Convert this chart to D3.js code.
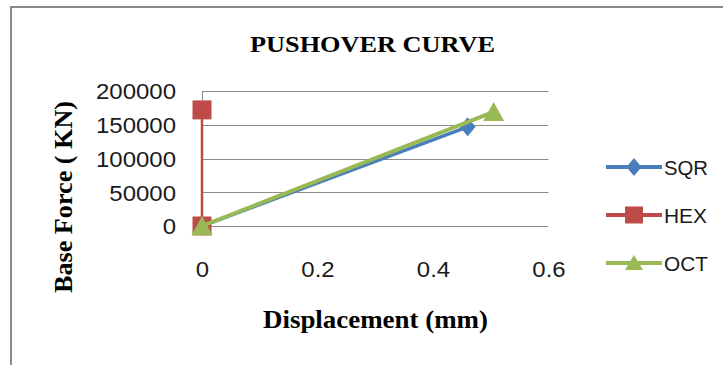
<!DOCTYPE html>
<html><head><meta charset="utf-8">
<script src="https://cdn.jsdelivr.net/npm/d3@7"></script>
<style>html,body{margin:0;padding:0;background:#fff;overflow:hidden}</style>
</head><body>
<svg id="c" width="723" height="365"></svg>
<script>
const seriesNames = ["SQR", "HEX", "OCT"];
const sqrX = [0, 0.46];
const sqrY = [0, 147000];
const hexX = [0, 0];
const hexY = [0, 172000];
const octX = [0, 0.505];
const octY = [0, 169000];
const xTicks = [0, 0.2, 0.4, 0.6];
const yTicks = [0, 50000, 100000, 150000, 200000];
const colors = ["#4A7EBB", "#BE4B48", "#98B954"];
const markers = ["diamond", "square", "triangle"];
const titleText = "PUSHOVER CURVE";
const xTitle = "Displacement (mm)";
const yTitle = "Base Force ( KN)";

const svg = d3.select("#c");
const L = 202, R = 548.5, T = 91, B = 226;
const x = d3.scaleLinear().domain([0, 0.6]).range([L, R]);
const y = d3.scaleLinear().domain([0, 200000]).range([B, T]);

// frame
svg.append("path").attr("d", "M11,370 V7 H730").attr("fill", "none")
  .attr("stroke", "#8a8a8a").attr("stroke-width", 2);

function fit(sel, w) {
  sel.each(function(){ this.setAttribute("textLength", w); this.setAttribute("lengthAdjust", "spacingAndGlyphs"); });
}

// title
svg.append("text").attr("x", 372.5).attr("y", 52).attr("text-anchor", "middle")
  .attr("font-family", "Liberation Serif").attr("font-weight", "bold").attr("font-size", 23)
  .text(titleText).call(fit, 245);

// gridlines
const grid = svg.append("g");
grid.selectAll("line").data(yTicks).join("line")
  .attr("x1", L).attr("x2", R).attr("y1", d => Math.round(y(d)) + 0.5).attr("y2", d => Math.round(y(d)) + 0.5)
  .attr("stroke", "#8c8c8c").attr("stroke-width", 1);
svg.append("line").attr("x1", L + 0.5).attr("x2", L + 0.5).attr("y1", T).attr("y2", B)
  .attr("stroke", "#8c8c8c").attr("stroke-width", 1);

// y axis labels
const yAxis = d3.axisLeft(y).tickValues(yTicks).tickSize(0).tickPadding(0).tickFormat(d3.format("d"));
const gy = svg.append("g").attr("transform", `translate(176,0)`).call(yAxis);
gy.select(".domain").remove();
gy.selectAll("text").attr("font-family", "Liberation Sans").attr("font-size", 22)
  .attr("fill", "#1a1a1a").attr("dy", "0.36em")
  .each(function(){ const w = this.getComputedTextLength(); this.setAttribute("textLength", w * 1.09); this.setAttribute("lengthAdjust", "spacingAndGlyphs"); });

// x axis labels
const xAxis = d3.axisBottom(x).tickValues(xTicks).tickSize(0).tickPadding(0).tickFormat(d => d === 0 ? "0" : d3.format(".1f")(d));
const gx = svg.append("g").attr("transform", `translate(0,261)`).call(xAxis);
gx.select(".domain").remove();
gx.selectAll("text").attr("font-family", "Liberation Sans").attr("font-size", 22)
  .attr("fill", "#1a1a1a").attr("dy", "0.71em")
  .each(function(){ const w = this.getComputedTextLength(); this.setAttribute("textLength", w * 1.09); this.setAttribute("lengthAdjust", "spacingAndGlyphs"); });

// axis titles
svg.append("text").attr("x", 375.5).attr("y", 328).attr("text-anchor", "middle")
  .attr("font-family", "Liberation Serif").attr("font-weight", "bold").attr("font-size", 26)
  .text(xTitle).call(fit, 225);
svg.append("text").attr("transform", "translate(72,197) rotate(-90)").attr("text-anchor", "middle")
  .attr("font-family", "Liberation Serif").attr("font-weight", "bold").attr("font-size", 26)
  .text(yTitle).call(fit, 192);

function markerPath(type) {
  if (type === "diamond") return "M0,-9.5 L8,0 L0,9.5 L-8,0 Z";
  if (type === "square") return "M-9.5,-9.5 H9.5 V9.5 H-9.5 Z";
  return "M0,-10 L10.5,9 L-10.5,9 Z";
}
function legendMarker(type) {
  if (type === "diamond") return "M0,-9 L7.5,0 L0,9 L-7.5,0 Z";
  if (type === "square") return "M-9,-8.5 H9 V8.5 H-9 Z";
  return "M0,-8 L9,7 L-9,7 Z";
}

const data = [
  sqrX.map((v, i) => [v, sqrY[i]]),
  hexX.map((v, i) => [v, hexY[i]]),
  octX.map((v, i) => [v, octY[i]])
];
const widths = [3.5, 2.5, 4];
const line = d3.line().x(d => x(d[0])).y(d => y(d[1]));
data.forEach((pts, i) => {
  const g = svg.append("g");
  g.append("path").attr("d", line(pts)).attr("fill", "none").attr("stroke", colors[i])
    .attr("stroke-width", widths[i]);
  g.selectAll("path.m").data(pts).join("path").attr("class", "m")
    .attr("transform", d => `translate(${x(d[0])},${y(d[1])})`)
    .attr("d", markerPath(markers[i])).attr("fill", colors[i]);
});

// legend
const legY = [167, 215, 263];
const legW = [44, 43, 44];
seriesNames.forEach((n, i) => {
  const g = svg.append("g").attr("transform", `translate(0,${legY[i]})`);
  g.append("line").attr("x1", 606).attr("x2", 662).attr("y1", 0).attr("y2", 0)
    .attr("stroke", colors[i]).attr("stroke-width", 4);
  g.append("path").attr("transform", "translate(634,0)").attr("d", legendMarker(markers[i])).attr("fill", colors[i]);
  g.append("text").attr("x", 664).attr("y", 7.5).attr("font-family", "Liberation Sans").attr("font-size", 21)
    .attr("fill", "#1a1a1a").text(n).call(fit, legW[i]);
});
</script>
</body></html>
